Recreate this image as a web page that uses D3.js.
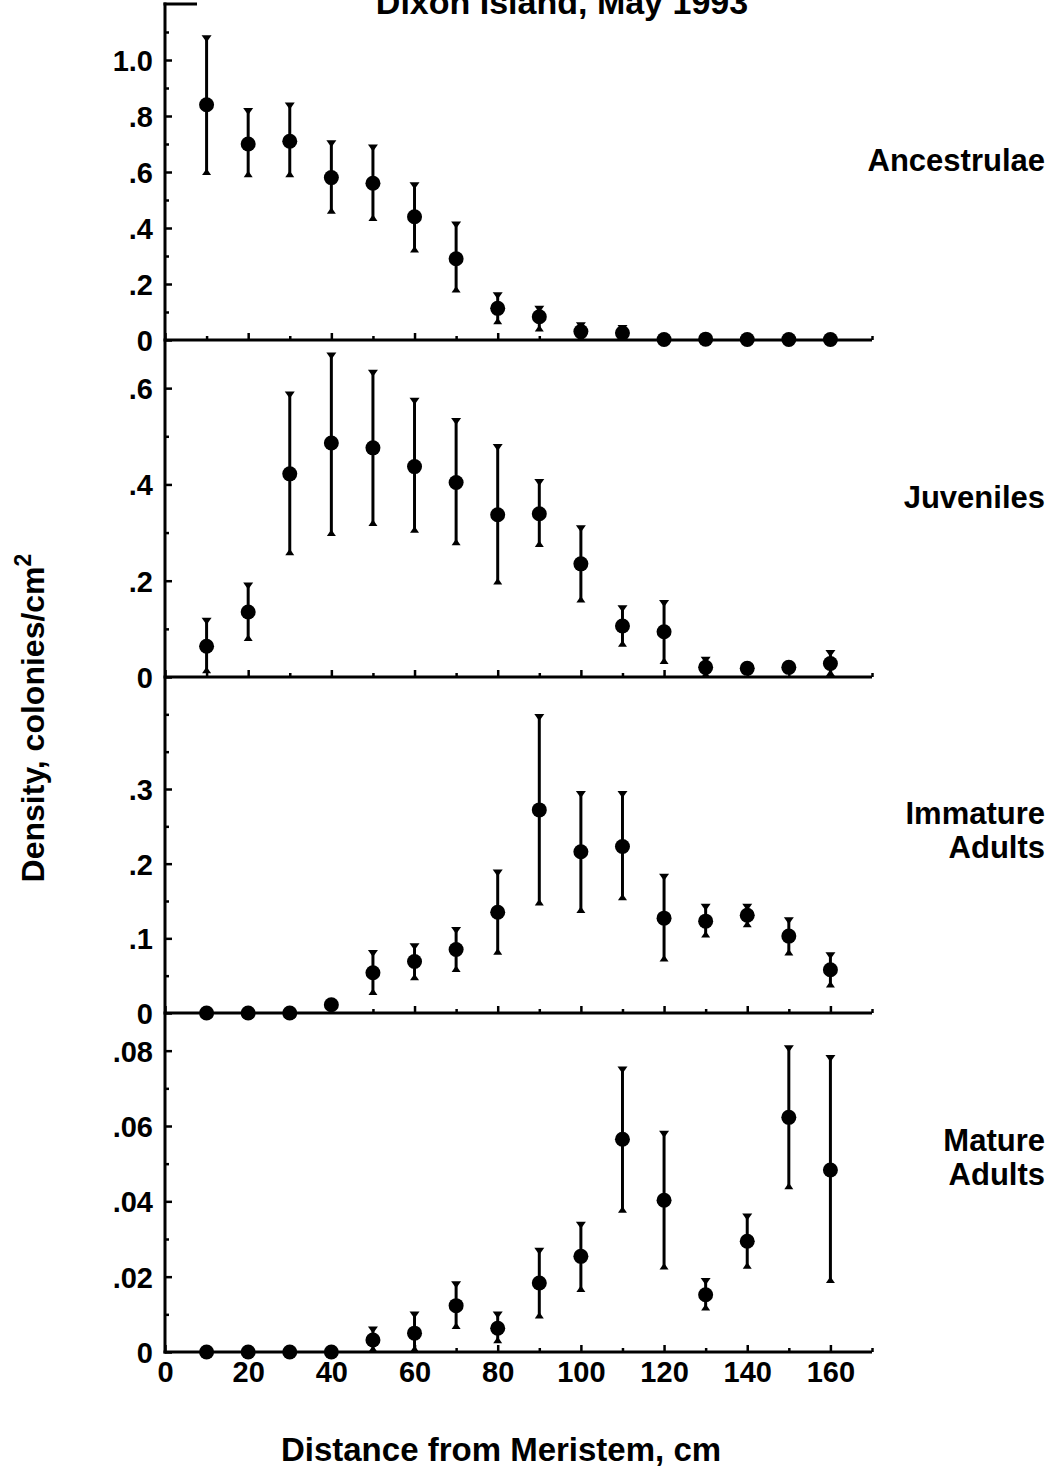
<!DOCTYPE html>
<html>
<head>
<meta charset="utf-8">
<script src="https://cdn.jsdelivr.net/npm/d3@7"></script>
<style>
  html, body { margin: 0; padding: 0; background: #fff; }
  svg text { font-family: "Liberation Sans", Arial, Helvetica, sans-serif; font-weight: bold; fill: #000; }
</style>
</head>
<body>
<script>
// Distance from the kelp meristem (cm) at which colonies were counted
const distances = [10, 20, 30, 40, 50, 60, 70, 80, 90, 100, 110, 120, 130, 140, 150, 160];
const xTicksMajor = [0, 20, 40, 60, 80, 100, 120, 140, 160];
const xTicksMinor = [10, 30, 50, 70, 90, 110, 130, 150, 170];

// Ancestrulae: mean density and error-bar limits (colonies/cm^2)
const ancestrulaeMean  = [0.84, 0.70, 0.71, 0.58, 0.56, 0.44, 0.29, 0.113, 0.083, 0.030, 0.025, 0.002, 0.003, 0.002, 0.002, 0.002];
const ancestrulaeUpper = [1.085, 0.825, 0.845, 0.71, 0.695, 0.56, 0.42, 0.167, 0.119, 0.060, 0.050, 0.002, 0.003, 0.002, 0.002, 0.002];
const ancestrulaeLower = [0.595, 0.587, 0.587, 0.456, 0.430, 0.318, 0.175, 0.062, 0.036, 0.003, 0.004, 0.002, 0.003, 0.002, 0.002, 0.002];

// Juveniles
const juvenilesMean  = [0.064, 0.135, 0.422, 0.486, 0.476, 0.437, 0.404, 0.337, 0.339, 0.235, 0.106, 0.094, 0.020, 0.018, 0.020, 0.028];
const juvenilesUpper = [0.121, 0.194, 0.591, 0.672, 0.636, 0.578, 0.536, 0.482, 0.409, 0.313, 0.147, 0.158, 0.040, 0.025, 0.028, 0.054];
const juvenilesLower = [0.011, 0.078, 0.256, 0.296, 0.317, 0.303, 0.277, 0.195, 0.273, 0.158, 0.066, 0.030, 0.002, 0.010, 0.012, 0.005];

// Immature adults
const immatureMean  = [0, 0, 0, 0.011, 0.054, 0.069, 0.085, 0.135, 0.272, 0.216, 0.223, 0.127, 0.123, 0.131, 0.103, 0.058];
const immatureUpper = [0, 0, 0, 0.014, 0.083, 0.092, 0.114, 0.191, 0.399, 0.296, 0.296, 0.185, 0.145, 0.145, 0.127, 0.080];
const immatureLower = [0, 0, 0, 0.006, 0.026, 0.046, 0.057, 0.080, 0.146, 0.136, 0.153, 0.071, 0.103, 0.117, 0.079, 0.036];

// Mature adults
const matureMean  = [0, 0, 0, 0, 0.0032, 0.0050, 0.0123, 0.0063, 0.0183, 0.0254, 0.0565, 0.0403, 0.0152, 0.0294, 0.0623, 0.0483];
const matureUpper = [0, 0, 0, 0, 0.0065, 0.0105, 0.0185, 0.0105, 0.0274, 0.0343, 0.0755, 0.0585, 0.0194, 0.0365, 0.0812, 0.0786];
const matureLower = [0, 0, 0, 0, 0.0004, 0.0004, 0.0065, 0.0027, 0.0093, 0.0163, 0.0374, 0.0223, 0.0114, 0.0225, 0.0436, 0.0187];

// Y-axis limits and tick values for each stage
const yMax = [1.2, 0.7, 0.45, 0.09];
const yTicksMajor = [
  [0, 0.2, 0.4, 0.6, 0.8, 1.0],
  [0, 0.2, 0.4, 0.6],
  [0, 0.1, 0.2, 0.3],
  [0, 0.02, 0.04, 0.06, 0.08]
];
const yTicksMinor = [
  [0.1, 0.3, 0.5, 0.7, 0.9, 1.1],
  [0.1, 0.3, 0.5],
  [0.05, 0.15, 0.25, 0.35, 0.4],
  [0.01, 0.03, 0.05, 0.07]
];
const stageLabels = [["Ancestrulae"], ["Juveniles"], ["Immature", "Adults"], ["Mature", "Adults"]];

const titleText = "Dixon Island, May 1993";
const xTitle = "Distance from Meristem, cm";

// ---- layout ----
const W = 1048, H = 1468;
const axisX = 165, axisRight = 872;
const panelBounds = [[4, 340], [340, 677], [677, 1013], [1013, 1352]]; // [top, bottom] in px
const labelRight = 1045;
const labelCenters = [160, 497, 830, 1157];

const svg = d3.select("body").append("svg").attr("width", W).attr("height", H);

const x = d3.scaleLinear().domain([0, 170]).range([axisX, axisRight]);

const panels = [
  { mean: ancestrulaeMean, upper: ancestrulaeUpper, lower: ancestrulaeLower },
  { mean: juvenilesMean,   upper: juvenilesUpper,   lower: juvenilesLower },
  { mean: immatureMean,    upper: immatureUpper,    lower: immatureLower },
  { mean: matureMean,      upper: matureUpper,      lower: matureLower }
];

function fmt(v) {
  if (v === 0) return "0";
  if (v >= 1) return v.toFixed(1);
  return d3.format("~g")(v).replace(/^0/, "");
}

panels.forEach((p, i) => {
  const [top, bottom] = panelBounds[i];
  const y = d3.scaleLinear().domain([0, yMax[i]]).range([bottom, top]);
  const g = svg.append("g");

  // y axis: major ticks with labels, pointing into the plot
  const yMajor = g.append("g").attr("transform", `translate(${axisX},0)`)
    .call(d3.axisLeft(y).tickValues(yTicksMajor[i]).tickFormat(fmt)
      .tickSizeInner(-7).tickSizeOuter(0).tickPadding(12));
  yMajor.select(".domain").remove();
  yMajor.selectAll(".tick line").attr("stroke", "#000").attr("stroke-width", 2.5);
  yMajor.selectAll(".tick text").style("font-size", "29px").attr("dy", "0.36em");

  const yMinor = g.append("g").attr("transform", `translate(${axisX},0)`)
    .call(d3.axisLeft(y).tickValues(yTicksMinor[i]).tickFormat("")
      .tickSizeInner(-4).tickSizeOuter(0));
  yMinor.select(".domain").remove();
  yMinor.selectAll(".tick line").attr("stroke", "#000").attr("stroke-width", 2.5);

  // x axis at the zero line of each panel
  const xMajor = g.append("g").attr("transform", `translate(0,${bottom})`)
    .call(d3.axisBottom(x).tickValues(xTicksMajor)
      .tickFormat(i === panels.length - 1 ? d3.format("d") : "")
      .tickSizeInner(-7).tickSizeOuter(0).tickPadding(4));
  xMajor.select(".domain").remove();
  xMajor.selectAll(".tick line").attr("stroke", "#000").attr("stroke-width", 2.5);
  xMajor.selectAll(".tick text").style("font-size", "29px").attr("dy", "0.9em");

  const xMinor = g.append("g").attr("transform", `translate(0,${bottom})`)
    .call(d3.axisBottom(x).tickValues(xTicksMinor).tickFormat("")
      .tickSizeInner(-4).tickSizeOuter(0));
  xMinor.select(".domain").remove();
  xMinor.selectAll(".tick line").attr("stroke", "#000").attr("stroke-width", 2.5);

  g.append("line")
    .attr("x1", axisX - 1.5).attr("x2", axisRight)
    .attr("y1", bottom).attr("y2", bottom)
    .attr("stroke", "#000").attr("stroke-width", 3);

  // error bars
  const pts = distances.map((d, k) => ({ d, m: p.mean[k], u: p.upper[k], l: p.lower[k] }));
  const bars = pts.filter(q => q.u - q.l > 0.0001);
  g.selectAll("line.err").data(bars).join("line")
    .attr("class", "err")
    .attr("x1", q => x(q.d)).attr("x2", q => x(q.d))
    .attr("y1", q => y(q.u)).attr("y2", q => y(q.l))
    .attr("stroke", "#000").attr("stroke-width", 3);
  g.selectAll("path.capU").data(bars).join("path")
    .attr("class", "capU")
    .attr("d", q => { const cx = x(q.d), cy = y(q.u); return `M${cx - 5},${cy - 1}L${cx + 5},${cy - 1}L${cx},${cy + 6}Z`; })
    .attr("fill", "#000");
  g.selectAll("path.capL").data(bars).join("path")
    .attr("class", "capL")
    .attr("d", q => { const cx = x(q.d), cy = y(q.l); return `M${cx - 4.5},${cy + 1.5}L${cx + 4.5},${cy + 1.5}L${cx},${cy - 5}Z`; })
    .attr("fill", "#000");

  // means
  g.selectAll("circle.pt").data(pts).join("circle")
    .attr("class", "pt")
    .attr("cx", q => x(q.d)).attr("cy", q => y(q.m))
    .attr("r", 7.5).attr("fill", "#000");

  // stage label on the right
  const lines = stageLabels[i];
  const lh = 34;
  const t = svg.append("text")
    .attr("text-anchor", "end")
    .style("font-size", "31px");
  lines.forEach((s, k) => {
    t.append("tspan")
      .attr("x", labelRight)
      .attr("y", labelCenters[i] - (lines.length - 1) * lh / 2 + k * lh)
      .attr("dy", "0.36em")
      .text(s);
  });
});

// y-axis spine spanning all four panels and the top bracket
svg.append("line")
  .attr("x1", axisX).attr("x2", axisX)
  .attr("y1", panelBounds[0][0] - 1.5).attr("y2", panelBounds[3][1] + 1.5)
  .attr("stroke", "#000").attr("stroke-width", 3);
svg.append("line")
  .attr("x1", axisX - 1.5).attr("x2", axisX + 32)
  .attr("y1", panelBounds[0][0]).attr("y2", panelBounds[0][0])
  .attr("stroke", "#000").attr("stroke-width", 3);

// title (partly above the top edge)
svg.append("text")
  .attr("x", 562).attr("y", 14)
  .attr("text-anchor", "middle")
  .style("font-size", "34px")
  .text(titleText);

// x-axis title
svg.append("text")
  .attr("x", 501).attr("y", 1461)
  .attr("text-anchor", "middle")
  .style("font-size", "33px")
  .text(xTitle);

// y-axis title
const yt = svg.append("text")
  .attr("transform", "translate(44,718) rotate(-90)")
  .attr("text-anchor", "middle")
  .style("font-size", "32px");
yt.append("tspan").text("Density, colonies/cm");
yt.append("tspan").attr("dy", -13).style("font-size", "23px").text("2");
</script>
</body>
</html>
